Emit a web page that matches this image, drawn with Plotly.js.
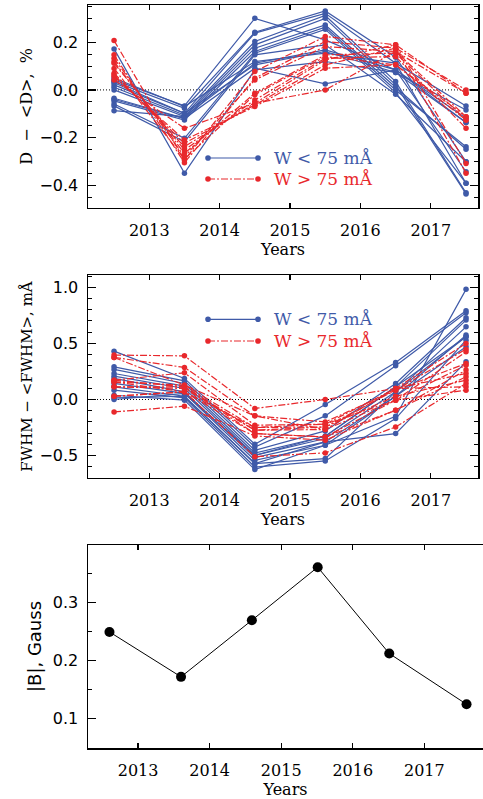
<!DOCTYPE html>
<html>
<head>
<meta charset="utf-8">
<script src="https://cdn.plot.ly/plotly-3.0.1.min.js"></script>
<style>html,body{margin:0;padding:0;background:#fff;}#chart{width:483px;height:799px;}</style>
</head>
<body>
<div id="chart"></div>
<script>
// ---- data ----
const years = [2012.5, 2013.5, 2014.5, 2015.5, 2016.5, 2017.5];
const tickYears = [2013, 2014, 2015, 2016, 2017];

// Panel 1: D - <D>, %  (W < 75 mA, blue)
const dBlue = [
  [0.172, -0.349, 0.084, 0.119, 0.073, -0.137],
  [0.042, -0.067, 0.300, 0.210, 0.084, -0.343],
  [0.035, -0.077, 0.242, 0.331, 0.137, -0.301],
  [0.021, -0.098, 0.238, 0.321, 0.112, -0.391],
  [0.011, -0.105, 0.203, 0.312, 0.035, -0.431],
  [0.000, -0.112, 0.189, 0.300, 0.021, -0.436],
  [-0.035, -0.119, 0.175, 0.272, 0.011, -0.249],
  [-0.046, -0.126, 0.161, 0.263, 0.000, -0.238],
  [-0.059, -0.203, 0.154, 0.254, -0.011, -0.391],
  [-0.067, -0.217, 0.147, 0.189, -0.018, -0.301],
  [-0.087, -0.112, 0.112, 0.168, 0.084, -0.119],
  [0.030, -0.098, 0.105, 0.161, 0.073, -0.084],
  [0.050, -0.070, 0.119, 0.154, 0.112, -0.067],
  [-0.040, -0.120, 0.091, 0.025, 0.084, -0.137]
];
// Panel 1: D - <D>, %  (W > 75 mA, red)
const dRed = [
  [0.207, -0.294, 0.077, 0.224, 0.189, -0.014],
  [0.147, -0.305, 0.049, 0.203, 0.175, 0.000],
  [0.133, -0.280, 0.042, 0.182, 0.161, -0.112],
  [0.119, -0.266, -0.014, 0.147, 0.154, -0.126],
  [0.112, -0.252, -0.042, 0.133, 0.140, -0.161],
  [0.070, -0.238, -0.056, 0.126, 0.189, -0.308],
  [0.063, -0.224, -0.063, 0.105, 0.175, -0.349],
  [0.056, -0.210, -0.070, 0.091, 0.105, -0.126],
  [0.042, -0.161, -0.056, 0.000, 0.161, -0.014],
  [0.090, -0.290, -0.020, 0.140, 0.105, -0.112]
];

// Panel 2: FWHM - <FWHM>, mA (blue)
const fBlue = [
  [0.431, 0.188, -0.399, -0.045, 0.330, 0.791],
  [0.291, 0.166, -0.423, -0.146, 0.300, 0.773],
  [0.268, 0.143, -0.453, -0.280, 0.143, 0.729],
  [0.232, 0.119, -0.477, -0.328, 0.113, 0.708],
  [0.208, 0.098, -0.497, -0.348, 0.068, 0.648],
  [0.188, 0.068, -0.518, -0.378, 0.029, 0.574],
  [0.143, 0.054, -0.542, -0.408, -0.149, 0.982],
  [0.113, 0.029, -0.571, -0.527, 0.068, 0.559],
  [0.083, 0.014, -0.602, -0.548, -0.170, 0.529],
  [0.038, -0.006, -0.625, -0.408, 0.029, 0.470],
  [0.014, 0.029, -0.571, -0.378, -0.304, 0.336],
  [0.000, 0.054, -0.497, -0.328, 0.113, 0.559]
];
// Panel 2: FWHM - <FWHM>, mA (red)
const fRed = [
  [0.396, 0.389, -0.080, 0.000, 0.098, 0.500],
  [0.375, 0.286, -0.146, -0.200, 0.083, 0.449],
  [0.172, 0.238, -0.229, -0.220, -0.006, 0.425],
  [0.157, 0.128, -0.250, -0.245, 0.083, 0.321],
  [0.113, 0.113, -0.274, -0.268, -0.006, 0.306],
  [0.029, 0.068, -0.304, -0.334, -0.095, 0.262],
  [-0.111, -0.060, -0.325, -0.363, -0.095, 0.202],
  [0.157, 0.068, -0.510, -0.476, -0.245, 0.143],
  [0.375, 0.128, -0.146, -0.268, 0.098, 0.113],
  [0.172, 0.113, -0.304, -0.334, -0.006, 0.083],
  [0.029, 0.068, -0.250, -0.220, 0.098, 0.232],
  [0.113, 0.098, -0.274, -0.245, 0.029, 0.172]
];

// Panel 3: |B|, Gauss
const bYears = [2012.6, 2013.6, 2014.59, 2015.51, 2016.51, 2017.59];
const bValues = [0.249, 0.172, 0.269, 0.360, 0.212, 0.125];

// ---- styles ----
const BLUE = '#3f5aa8';
const RED = '#e8282c';
const SERIF = '"DejaVu Serif", serif';
const SANS = '"DejaVu Sans", sans-serif';
const RED_DASH = '7px,2px,2px,2px';

const traces = [];
function addGroup(arr, color, dash, xa, ya) {
  arr.forEach(s => traces.push({
    x: years, y: s, xaxis: xa, yaxis: ya, type: 'scatter', mode: 'lines+markers',
    line: {color: color, width: 1.2, dash: dash},
    marker: {color: color, size: 5.5},
    hoverinfo: 'skip'
  }));
}
addGroup(dBlue, BLUE, 'solid', 'x', 'y');
addGroup(dRed, RED, RED_DASH, 'x', 'y');
addGroup(fBlue, BLUE, 'solid', 'x2', 'y2');
addGroup(fRed, RED, RED_DASH, 'x2', 'y2');
traces.push({
  x: bYears, y: bValues, xaxis: 'x3', yaxis: 'y3', type: 'scatter', mode: 'lines+markers',
  line: {color: '#000', width: 1}, marker: {color: '#000', size: 10}, hoverinfo: 'skip'
});

function xAxis(domain, anchor, range) {
  return {
    domain: domain, anchor: anchor, range: range,
    tickvals: tickYears, ticktext: tickYears.map(String),
    ticks: 'inside', ticklen: 5, tickwidth: 1.2, tickcolor: '#000',
    showline: true, linecolor: '#000', linewidth: 1.5, mirror: 'allticks',
    showgrid: false, zeroline: false,
    tickfont: {family: SERIF, size: 16, color: '#000'},
    ticklabelstandoff: 7,
    title: {text: 'Years', font: {family: SERIF, size: 16, color: '#000'}, standoff: 2}
  };
}
function yAxis(domain, anchor, range, dtick, minor, title, tfont, tsize, mirror, standoff) {
  return {
    domain: domain, anchor: anchor, range: range, dtick: dtick, tick0: 0,
    tickformat: '.1f',
    ticks: 'inside', ticklen: 8, tickwidth: 1.2, tickcolor: '#000',
    minor: {dtick: minor, ticks: 'inside', ticklen: 4, tickwidth: 1, tickcolor: '#000', showgrid: false},
    showline: true, linecolor: '#000', linewidth: 1.5, mirror: mirror,
    showgrid: false, zeroline: false,
    tickfont: {family: SANS, size: 16, color: '#000'},
    ticklabelstandoff: 5,
    title: {text: title, font: {family: tfont, size: tsize, color: '#000'}, standoff: standoff}
  };
}

const XD = [0, 390 / 395];
const layout = {
  width: 483, height: 799,
  margin: {l: 88, r: 0, t: 5, b: 51},
  paper_bgcolor: '#fff', plot_bgcolor: '#fff',
  showlegend: false,
  xaxis: xAxis(XD, 'y', [2012.13, 2017.67]),
  xaxis2: xAxis(XD, 'y2', [2012.13, 2017.67]),
  xaxis3: xAxis([0, 1], 'y3', [2012.30, 2017.82]),
  yaxis: yAxis([0.7268, 1], 'x', [-0.495, 0.356], 0.2, 0.05,
    'D&nbsp;&nbsp;−&nbsp;&nbsp;&lt;D&gt;,&nbsp;&nbsp;%', SERIF, 16, 'allticks', 3),
  yaxis2: yAxis([0.3634, 0.6366], 'x2', [-0.70, 1.11], 0.5, 0.1,
    'FWHM − &lt;FWHM&gt;, mÅ', SERIF, 15, 'allticks', 3),
  yaxis3: yAxis([0, 0.2732], 'x3', [0.05, 0.398], 0.1, 0.05, '|B|, Gauss', SANS, 18, false, 6),
  shapes: [],
  annotations: []
};

// dotted zero lines
[['x', 'y'], ['x2', 'y2']].forEach(([xa, ya]) => {
  layout.shapes.push({type: 'line', xref: xa + ' domain', yref: ya, x0: 0, x1: 1, y0: 0, y1: 0,
    layer: 'below', line: {color: '#000', width: 1, dash: '1px,2px'}});
});

// legends
function legendRow(xa, ya, yFrac, color, dash, label) {
  layout.shapes.push({type: 'line', xref: xa + ' domain', yref: ya + ' domain',
    x0: 0.3077, x1: 0.4359, y0: yFrac, y1: yFrac, line: {color: color, width: 1.2, dash: dash}});
  [0.3077, 0.4359].forEach(xf => layout.shapes.push({
    type: 'circle', xref: xa + ' domain', yref: ya + ' domain',
    xsizemode: 'pixel', ysizemode: 'pixel', xanchor: xf, yanchor: yFrac,
    x0: -2.8, x1: 2.8, y0: -2.8, y1: 2.8,
    fillcolor: color, line: {color: color, width: 0}}));
  layout.annotations.push({xref: xa + ' domain', yref: ya + ' domain', x: 0.4718, y: yFrac,
    xanchor: 'left', yanchor: 'middle', showarrow: false, text: label,
    font: {family: SERIF, size: 17, color: color}});
}
legendRow('x', 'y', 0.2463, BLUE, 'solid', 'W &lt; 75 mÅ');
legendRow('x', 'y', 0.1429, RED, RED_DASH, 'W &gt; 75 mÅ');
legendRow('x2', 'y2', 0.7818, BLUE, 'solid', 'W &lt; 75 mÅ');
legendRow('x2', 'y2', 0.6749, RED, RED_DASH, 'W &gt; 75 mÅ');

Plotly.newPlot('chart', traces, layout, {staticPlot: true, displayModeBar: false});
</script>
</body>
</html>
